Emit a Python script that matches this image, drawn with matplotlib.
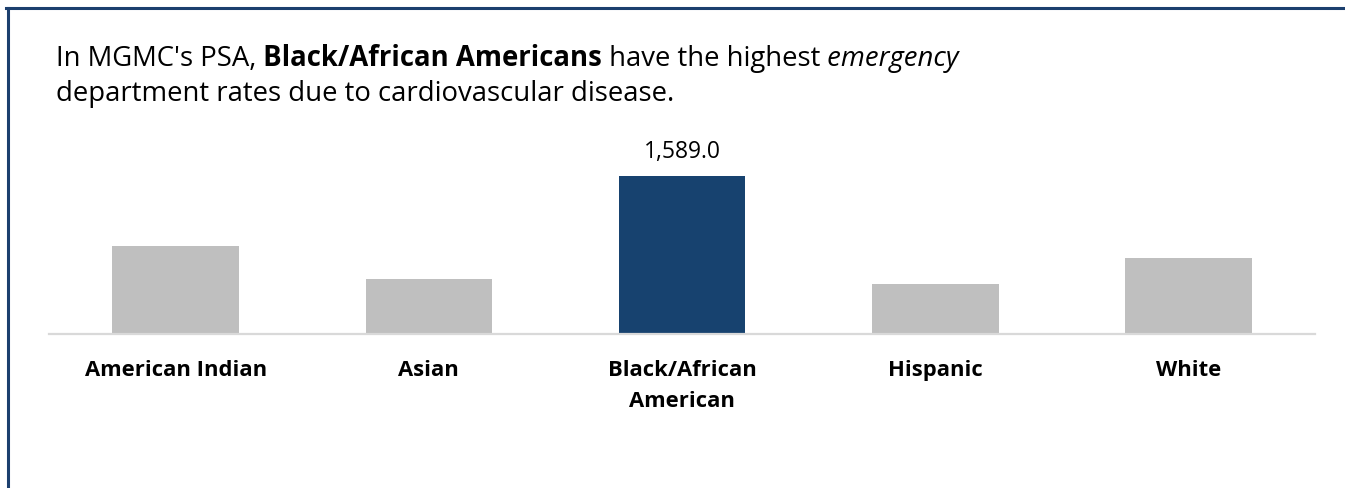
import matplotlib
matplotlib.use("Agg")
import matplotlib.pyplot as plt
from matplotlib.lines import Line2D

# data
groups = ["American Indian", "Asian", "Black/African\nAmerican", "Hispanic", "White"]
ed_rates = [885, 553, 1589.0, 505, 764]
highlight = "Black/African\nAmerican"

GREY = "#bfbfbf"
NAVY = "#17426f"
BORDER = "#1c3f6e"

plt.rcParams["font.family"] = ["Open Sans", "DejaVu Sans"]

W, H = 1345, 488
fig = plt.figure(figsize=(W / 100, H / 100), dpi=100)

# axes box in pixel terms: x 49..1315, y 140..334 (from top)
ax = fig.add_axes([49 / W, (H - 334) / H, 1266 / W, 194 / H])

colors = [NAVY if g == highlight else GREY for g in groups]
x = range(len(groups))
bars = ax.bar(x, ed_rates, width=0.5, color=colors, zorder=1)

ax.set_xlim(-0.5, len(groups) - 0.5)
ax.set_ylim(0, 1950)
ax.set_yticks([])
ax.set_xticks(list(x))
ax.set_xticklabels(groups, fontsize=15.8, fontweight="bold", color="black",
                   linespacing=1.6)
ax.tick_params(axis="x", length=0, pad=19)
for s in ["top", "left", "right"]:
    ax.spines[s].set_visible(False)
ax.spines["bottom"].set_color("#d9d9d9")
ax.spines["bottom"].set_linewidth(1.6)

# value label only on highlighted bar
i = groups.index(highlight)
ax.annotate(f"{ed_rates[i]:,.1f}", xy=(i, ed_rates[i]), xytext=(0, 18),
            textcoords="offset pixels", ha="center", va="baseline",
            fontsize=16.5, color="black")

# title with mixed styles, built piece by piece
fs = 19.8
t = fig.text(56 / W, 1 - 66 / H, "In MGMC's PSA,", fontsize=fs, va="baseline",
             color="black")
prev = t
for s, kw in [(" Black/African Americans", {"fontweight": "bold"}),
              (" have the highest", {}),
              (" emergency", {"fontstyle": "italic"})]:
    prev = ax.annotate(s, xycoords=prev, xy=(1, 0), va="bottom", fontsize=fs,
                       color="black", annotation_clip=False, **kw)
fig.text(56 / W, 1 - 101 / H, "department rates due to cardiovascular disease.",
         fontsize=fs, va="baseline", color="black")

# frame lines (top and left)
fig.add_artist(Line2D([6 / W, 1], [1 - 8 / H, 1 - 8 / H], transform=fig.transFigure,
                      color=BORDER, lw=2.2))
fig.add_artist(Line2D([8 / W, 8 / W], [0, 1 - 8 / H], transform=fig.transFigure,
                      color=BORDER, lw=2.2))

fig.savefig("out.png", dpi=100)
